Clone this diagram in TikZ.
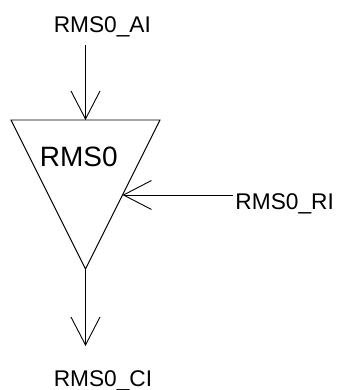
\documentclass[tikz,border=0pt]{standalone}
\usepackage{fontspec}
\setmainfont{Liberation Sans}
\usepackage{tikz}
\usetikzlibrary{arrows.meta}
\tikzset{
  block/.style={x=1pt,y=-1pt,line width=0.9pt,>={Straight Barb[length=28pt,width=29pt,line width=0.9pt]}},
  sig/.style={->,line width=0.9pt},
  pinlabel/.style={inner sep=0pt,anchor=base west,font=\fontsize{22.7}{27}\selectfont},
}

\begin{document}
\begin{tikzpicture}[block]
  \useasboundingbox (0,0) rectangle (339,390);

  % the triangle block
  \coordinate (tl) at (11,120);
  \coordinate (tr) at (160,120);
  \coordinate (apex) at (85.5,269);
  \draw (tl) -- (tr) -- (apex) -- cycle;
  \node[inner sep=0pt,anchor=base west,font=\fontsize{28}{32}\selectfont] (blk) at (39.5,166) {RMS0};

  % pins
  \coordinate (ain) at (85.5,120);
  \coordinate (rin) at (122.5,195);
  \node[pinlabel] (ai) at (53.3,33) {RMS0\_AI};
  \node[pinlabel] (ri) at (235,209.5) {RMS0\_RI};
  \node[pinlabel] (ci) at (53.3,386) {RMS0\_CI};
  \coordinate (aistart) at (85.5,45);
  \coordinate (ristart) at (233,195);
  \coordinate (cend) at (85.5,346);

  \draw[sig] (aistart) -- (ain);
  \draw[sig] (ristart) -- (rin);
  \draw[sig] (apex) -- (cend);
\end{tikzpicture}
\end{document}
